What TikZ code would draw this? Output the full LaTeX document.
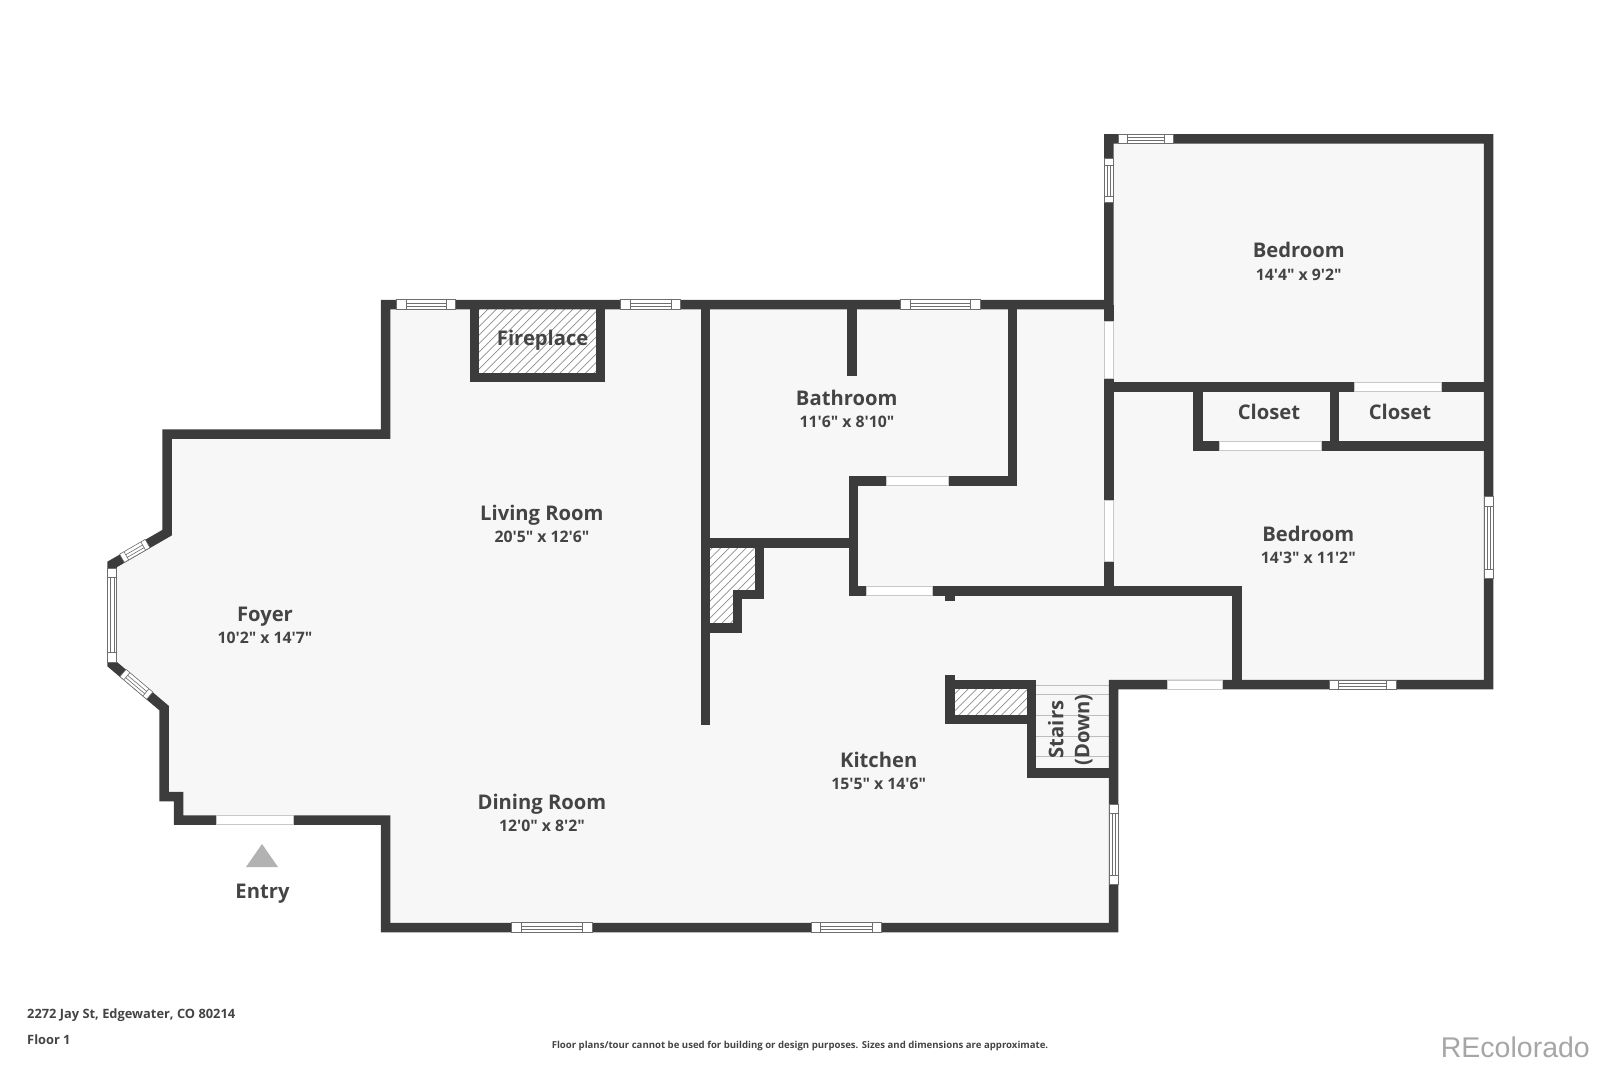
\documentclass[tikz,border=0pt]{standalone}
\usepackage{fontspec}
\newfontfamily\lbl{Open Sans}
\newfontfamily\logo{Liberation Sans}
\definecolor{wallc}{HTML}{3C3C3C}
\definecolor{floorc}{HTML}{F7F7F7}
\definecolor{txtc}{HTML}{444444}
\definecolor{hatchc}{HTML}{8E8E8E}
\definecolor{doorc}{HTML}{C8C8C8}
\definecolor{winc}{HTML}{6E6E6E}
\definecolor{stairc}{HTML}{BDBDBD}
\definecolor{logoc}{HTML}{A6A6A6}
\tikzset{
  wall/.style={draw=wallc,line width=9.5pt,line join=miter,miter limit=10,line cap=butt},
  floorarea/.style={fill=floorc,draw=none},
  doorbox/.style={fill=white,draw=doorc,line width=0.6pt},
  winbox/.style={fill=white,draw=winc,line width=0.6pt},
  winline/.style={draw=winc,line width=0.6pt},
  hatchline/.style={draw=hatchc,line width=0.7pt},
  hatchbg/.style={fill=white,draw=none},
  stairline/.style={draw=stairc,line width=0.8pt},
  roomname/.style={font=\lbl\bfseries\fontsize{20.2}{24}\selectfont,text=txtc,inner sep=0pt,anchor=base},
  roomdim/.style={font=\lbl\bfseries\fontsize{15.8}{18}\selectfont,text=txtc,inner sep=0pt,anchor=base},
  footer/.style={font=\lbl\bfseries\fontsize{12.85}{15}\selectfont,text=txtc,inner sep=0pt,anchor=base west},
  finepr/.style={font=\lbl\bfseries\fontsize{9.6}{11}\selectfont,text=txtc,inner sep=0pt,anchor=base},
  logotext/.style={font=\logo\fontsize{28.5}{32}\selectfont,text=logoc,inner sep=0pt,anchor=east},
  entrytri/.style={fill=black!30,draw=none}
}
% horizontal window: x1 x2 in1 in2 y
\newcommand{\hwin}[5]{%
  \draw[winbox] (#1,#5-4.75) rectangle (#2,#5+4.75);
  \draw[winline] (#3,#5-4.75) -- (#3,#5+4.75) (#4,#5-4.75) -- (#4,#5+4.75)
     (#3,#5-1.2) -- (#4,#5-1.2) (#3,#5+1.8) -- (#4,#5+1.8);}
% vertical window: x y1 y2 in1 in2
\newcommand{\vwin}[5]{%
  \draw[winbox] (#1-4.75,#2) rectangle (#1+4.75,#3);
  \draw[winline] (#1-4.75,#4) -- (#1+4.75,#4) (#1-4.75,#5) -- (#1+4.75,#5)
     (#1-1.8,#4) -- (#1-1.8,#5) (#1+1.8,#4) -- (#1+1.8,#5);}
\newcommand{\hdoor}[3]{\draw[doorbox] (#1,#3-4.6) rectangle (#2,#3+4.6);}
\newcommand{\vdoor}[3]{\draw[doorbox] (#1-4.6,#2) rectangle (#1+4.6,#3);}
\begin{document}
\begin{tikzpicture}[x=1pt,y=-1pt]
\useasboundingbox (0,0) rectangle (1600,1066);
% floor
\path[floorarea] (385.5,304.5) -- (1108.8,304.5) -- (1108.8,138.8) -- (1488.7,138.8) -- (1488.7,684.7) -- (1113.7,684.7) -- (1113.7,927.5) -- (385.5,927.5) -- (385.5,820) -- (178.7,820) -- (178.7,796.5) -- (164,796.5) -- (164,708) -- (112,664) -- (112,564.5) -- (167,532.7) -- (167,434) -- (385.5,434) -- cycle;
% hatching
\begin{scope}
  \fill[hatchbg] (479,309) rectangle (596,373);
  \clip (479,309) rectangle (596,373);
  \foreach \c in {400,408.5,...,600} \draw[hatchline] (\c,380) -- ++(80,-80);
\end{scope}
\begin{scope}
  \fill[hatchbg] (710,547) -- (755,547) -- (755,590) -- (733.3,590) -- (733.3,624) -- (710,624) -- cycle;
  \clip (710,547) -- (755,547) -- (755,590) -- (733.3,590) -- (733.3,624) -- (710,624) -- cycle;
  \foreach \c in {630,638.5,...,760} \draw[hatchline] (\c,630) -- ++(90,-90);
\end{scope}
\begin{scope}
  \fill[hatchbg] (954,689) rectangle (1027,715.5);
  \clip (954,689) rectangle (1027,715.5);
  \foreach \c in {920,928.5,...,1030} \draw[hatchline] (\c,720) -- ++(40,-40);
\end{scope}
% stairs
\draw[stairline] (1036,685) -- (1109,685) (1036,694.3) -- (1109,694.3) (1036,715) -- (1109,715) (1036,736) -- (1109,736) (1036,756.7) -- (1109,756.7);
% walls
\path[wall] (385.5,304.5) -- (1108.8,304.5) -- (1108.8,138.8) -- (1488.7,138.8) -- (1488.7,684.7) -- (1113.7,684.7) -- (1113.7,927.5) -- (385.5,927.5) -- (385.5,820) -- (178.7,820) -- (178.7,796.5) -- (164,796.5) -- (164,708) -- (112,664) -- (112,564.5) -- (167,532.7) -- (167,434) -- (385.5,434) -- cycle;
\path[wall] (705.5,304.5) -- (705.5,725);
\path[wall] (705.5,543) -- (853.7,543);
\path[wall] (759.5,538.25) -- (759.5,594.5) -- (737.7,594.5) -- (737.7,628) -- (705.5,628);
\path[wall] (1012.3,304.5) -- (1012.3,481) -- (853.7,481) -- (853.7,591) -- (1237,591) -- (1237,684.7);
\path[wall] (852.2,304.5) -- (852.2,376);
\path[wall] (950,591) -- (950,600.7);
\path[wall] (474.7,304.5) -- (474.7,377.3) -- (600.5,377.3) -- (600.5,304.5);
\path[wall] (950,675) -- (950,719.7) -- (1036,719.7);
\path[wall] (945.3,684.7) -- (1036,684.7);
\path[wall] (1031.3,680) -- (1031.3,773) -- (1113.7,773);
\path[wall] (1108.8,304.5) -- (1108.8,591);
\path[wall] (1108.8,386.8) -- (1488.7,386.8);
\path[wall] (1198,386.8) -- (1198,446) -- (1488.7,446);
\path[wall] (1334.7,386.8) -- (1334.7,446);
% doors
\hdoor{216.7}{293.3}{820}
\hdoor{886.7}{948.3}{481}
\hdoor{866.7}{932.7}{591}
\hdoor{1167.3}{1222.3}{684.7}
\hdoor{1354}{1441.7}{386.8}
\hdoor{1219.3}{1321}{446}
\vdoor{1108.8}{321.7}{378.3}
\vdoor{1108.8}{500}{561.7}
% windows
\hwin{396.7}{455}{406}{446}{304.5}
\hwin{620.7}{680.7}{630.7}{671}{304.5}
\hwin{900}{980}{910}{970}{304.5}
\hwin{1118.3}{1173.3}{1127.7}{1164}{138.8}
\hwin{511.4}{591.8}{521}{582.4}{927.5}
\hwin{811}{881.6}{820.4}{872.6}{927.5}
\hwin{1329}{1396}{1338.3}{1386.3}{684.7}
\vwin{1108.8}{158.3}{202.7}{165.7}{196}
\vwin{1488.7}{496.7}{578.3}{506}{569}
\vwin{1113.7}{804}{884}{813.3}{875}
\vwin{112}{568}{662}{577}{652}
\begin{scope}[shift={(122,558.3)},rotate=30]
  \hwin{0}{29.5}{5}{24.5}{0}
\end{scope}
\begin{scope}[shift={(123,673)},rotate=-40.2]
  \hwin{0}{35}{5}{30}{0}
\end{scope}
% entry
\fill[entrytri] (262,844) -- (278,867) -- (246,867) -- cycle;
% labels
\node[roomname] (entry) at (262.5,898.5) {Entry};
\node[roomname] (foyer) at (265,621) {Foyer};
\node[roomdim] (foyerd) at (265,643.5) {10'2" x 14'7"};
\node[roomname] (living) at (541.9,520) {Living Room};
\node[roomdim] (livingd) at (541.9,542.7) {20'5" x 12'6"};
\node[roomname] (dining) at (541.9,809) {Dining Room};
\node[roomdim] (diningd) at (541.9,831.7) {12'0" x 8'2"};
\node[roomname] (kitchen) at (878.7,767.2) {Kitchen};
\node[roomdim] (kitchend) at (878.7,789.5) {15'5" x 14'6"};
\node[roomname] (bath) at (846.7,405) {Bathroom};
\node[roomdim] (bathd) at (847,427.5) {11'6" x 8'10"};
\node[roomname] (fire) at (542.7,345.2) {Fireplace};
\node[roomname] (bed1) at (1298.7,257.7) {Bedroom};
\node[roomdim] (bed1d) at (1298.7,280.2) {14'4" x 9'2"};
\node[roomname] (bed2) at (1308.3,541.5) {Bedroom};
\node[roomdim] (bed2d) at (1308.3,563.2) {14'3" x 11'2"};
\node[roomname] (closet1) at (1269,419.7) {Closet};
\node[roomname] (closet2) at (1400,419.7) {Closet};
\node[roomname,rotate=90] (stairs) at (1063.3,729.5) {Stairs};
\node[roomname,rotate=90] (down) at (1089.3,730) {(Down)};
\node[footer] (addr) at (27,1018) {2272 Jay St, Edgewater, CO 80214};
\node[footer] (floorno) at (27,1044.5) {Floor 1};
\node[finepr] (note) at (800,1048.5) {Floor plans/tour cannot be used for building or design purposes. Sizes and dimensions are approximate.};
\node[logotext] (logo) at (1590,1047) {REcolorado};
\end{tikzpicture}
\end{document}
